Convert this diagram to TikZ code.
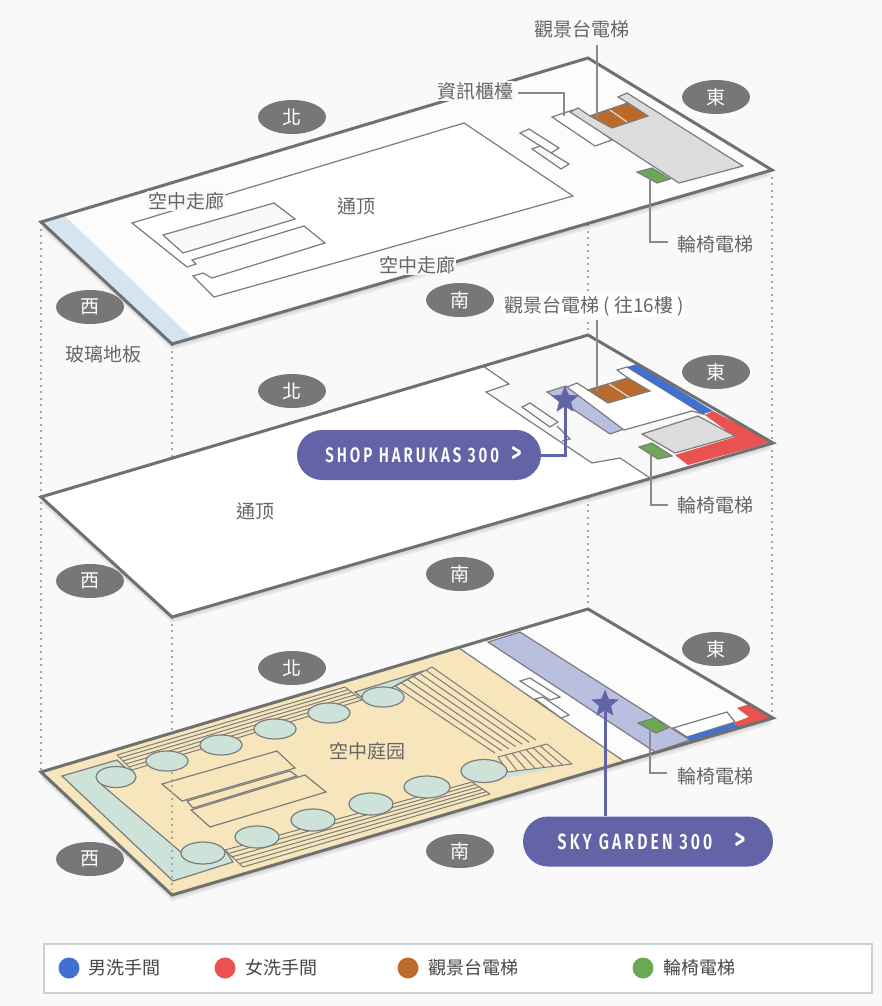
\documentclass[tikz,border=0pt]{standalone}
\usepackage{fontspec}
\setmainfont{Noto Sans CJK TC}
\newfontfamily\badgefont[FakeStretch=0.72,LetterSpace=14]{Fira Sans SemiBold}
\usetikzlibrary{shapes.geometric}
\definecolor{bgc}{HTML}{F9F9F9}
\definecolor{outl}{HTML}{707070}
\definecolor{thinC}{HTML}{7C7C7C}
\definecolor{leadC}{HTML}{8A8A8A}
\definecolor{txt}{HTML}{666666}
\definecolor{blueC}{HTML}{4270CE}
\definecolor{redC}{HTML}{E9524F}
\definecolor{brownC}{HTML}{BB6A2B}
\definecolor{greenC}{HTML}{6AAA55}
\definecolor{beigeC}{HTML}{F7E6BB}
\definecolor{tealC}{HTML}{CDE3D9}
\definecolor{lavC}{HTML}{B9BFDF}
\definecolor{grayC}{HTML}{DCDCDC}
\definecolor{glassC}{HTML}{D5E4EE}
\definecolor{purC}{HTML}{6264A7}
\definecolor{legB}{HTML}{C8D2D6}
\newcommand{\chev}{\scalebox{1.35}{>}}
\tikzset{
 floorline/.style={draw=outl,line width=3pt,line join=miter},
 part/.style={draw=thinC,line width=1.2pt,line join=miter},
 shadowp/.style={fill=black,opacity=.06},
 dotline/.style={draw=black!35,line width=1.5pt,dash pattern=on 2pt off 4.5pt},
 leader/.style={draw=leadC,line width=1.4pt},
 dirn/.style={ellipse,fill=outl!95,text=white,minimum width=68pt,minimum height=34pt,inner sep=0pt,font=\fontsize{19}{19}\selectfont},
 lbl/.style={text=txt,font=\fontsize{19}{19}\selectfont,inner sep=1pt},
 halo/.style={lbl,fill=bgc},
 garden/.style={draw=thinC,fill=tealC,line width=1.2pt},
 badge/.style={fill=purC,text=white,rounded corners=25pt,minimum height=50pt,inner sep=0pt,font=\badgefont\fontsize{22}{22}\selectfont},
 starM/.style={star,star points=5,star point ratio=2.3,fill=purC,inner sep=0pt,minimum size=29pt},
 purl/.style={draw=purC,line width=3pt},
 legdot/.style={circle,minimum size=21pt,inner sep=0pt},
 legt/.style={text=black!72,font=\fontsize{18}{18}\selectfont,inner sep=0pt},
}
\begin{document}
\begin{tikzpicture}[x=1pt,y=-1pt]
\useasboundingbox (0,0) rectangle (882,1006);
\fill[bgc] (0,0) rectangle (882,1006);
% dotted guides
\coordinate (dA1) at (41,222); \coordinate (dA2) at (41,772);
\coordinate (dB1) at (172,344); \coordinate (dB2) at (172,458);
\coordinate (dB3) at (172,617); \coordinate (dB4) at (172,735);
\coordinate (dB5) at (172,772); \coordinate (dB6) at (172,890);
\coordinate (dC1) at (588,224); \coordinate (dC2) at (588,335);
\coordinate (dC3) at (588,497); \coordinate (dC4) at (588,609);
\coordinate (dD1) at (772,170); \coordinate (dD2) at (772,718);
\draw[dotline] (dA1)--(dA2); \draw[dotline] (dB1)--(dB2); \draw[dotline] (dB3)--(dB4);
\draw[dotline] (dC1)--(dC2); \draw[dotline] (dC3)--(dC4); \draw[dotline] (dD1)--(dD2);

% ---------- TOP FLOOR
\foreach \s in {2,4,6}{\fill[shadowp,yshift=-\s pt] (41,222)--(172,344)--(772,170)--(588,58)--cycle;}
\fill[white!50!bgc] (41,222)--(172,344)--(772,170)--(588,58)--cycle;
\fill[glassC] (41,222)--(65,216)--(192,338)--(172,344)--cycle;
\draw[part,fill=white] (132,223)--(464,123)--(573,196)--(214,297)--(193,276)--(203,273)--(212,278)--(325,243)--(304,226)--(192,260)--(196,264)--(187,267)--cycle;
\draw[part,fill=bgc] (163,235)--(274,203)--(295,219)--(183,253)--cycle;
\draw[part,fill=white] (552,117)--(573,110)--(612,140)--(595,146)--cycle;
\draw[part,fill=grayC] (570,112)--(578,108)--(590,116)--(628,103)--(618,97)--(627,93)--(743,166)--(679,183)--cycle;
\draw[part,fill=brownC] (590,116)--(628,103)--(648,116)--(612,128)--cycle;
\draw[part,draw=grayC] (610,110)--(627,122);
\draw[part,fill=greenC] (637,172)--(652,168)--(670,179)--(657,183)--cycle;
\draw[part,fill=bgc] (520,133)--(529,129)--(559,148)--(551,153)--cycle;
\draw[part,fill=bgc] (532,149)--(540,146)--(569,164)--(561,169)--cycle;
\draw[floorline] (41,222)--(172,344)--(772,170)--(588,58)--cycle;

\node[dirn] (n1) at (292,117) {北};
\node[dirn] (e1) at (716,97) {東};
\node[dirn] (w1) at (90,307) {西};
\node[dirn] (s1) at (460,300) {南};
\node[halo] (t1) at (186,201) {空中走廊};
\node[lbl] (t2) at (356,206) {通顶};
\node[halo] (t3) at (417,265) {空中走廊};
\node[lbl] (t4) at (103,354) {玻璃地板};
\node[lbl] (t5) at (582,29) {觀景台電梯};
\node[halo] (t6) at (475,91) {資訊櫃檯};
\node[lbl] (t7) at (715,244) {輪椅電梯};
\coordinate (a1) at (597,45); \coordinate (a2) at (597,118);
\draw[leader] (a1)--(a2);
\coordinate (b1) at (518,93); \coordinate (b2) at (564,93); \coordinate (b3) at (564,116);
\draw[leader] (b1)--(b2)--(b3);
\coordinate (c1) at (650,174); \coordinate (c2) at (650,242); \coordinate (c3) at (668,242);
\draw[leader] (c1)--(c2)--(c3);

% ---------- MIDDLE FLOOR
\foreach \s in {2,4,6}{\fill[shadowp,yshift=-\s pt] (41,497)--(172,617)--(773,443)--(588,335)--cycle;}
\fill[white] (41,497)--(172,617)--(773,443)--(588,335)--cycle;
\draw[part,fill=bgc] (483,366)--(509,384)--(486,392)--(592,463)--(620,458)--(650,478)--(773,443)--(588,335)--cycle;
\draw[part,fill=lavC] (547,392)--(566,386)--(624,429)--(610,434)--cycle;
\draw[part,fill=white] (567,387)--(577,383)--(588,390)--(628,378)--(617,370)--(627,367)--(703,414)--(692,411)--(624,430)--cycle;
\draw[part,fill=brownC] (588,390)--(628,378)--(650,391)--(608,403)--cycle;
\draw[part,draw=grayC] (609,384)--(629,397);
\fill[blueC] (627,367)--(637,364)--(713,411)--(703,414)--cycle;
\fill[redC] (705,415)--(713,411)--(772,442)--(688,465)--(675,455)--(735,437)--cycle;
\draw[part,fill=grayC] (642,434)--(698,416)--(735,436)--(675,453)--cycle;
\draw[part,fill=greenC] (639,447)--(652,443)--(672,456)--(658,459)--cycle;
\draw[part,fill=bgc] (522,407)--(530,403)--(558,422)--(550,427)--cycle;
\draw[part] (557,426)--(570,439)--(562,441);
\draw[floorline] (41,497)--(172,617)--(773,443)--(588,335)--cycle;

\node[dirn] (n2) at (292,391) {北};
\node[dirn] (e2) at (716,372) {東};
\node[dirn] (w2) at (90,581) {西};
\node[dirn] (s2) at (460,574) {南};
\node[lbl] (t8) at (255,511) {通顶};
\node[lbl,fill=white,rounded corners=6pt,anchor=west] (t9) at (503,306) {觀景台電梯 ( 往16樓 )\hspace{16pt}};
\node[lbl] (t10) at (715,505) {輪椅電梯};
\coordinate (d1) at (597,320); \coordinate (d2) at (597,392);
\draw[leader] (d1)--(d2);
\coordinate (f1) at (651,452); \coordinate (f2) at (651,505); \coordinate (f3) at (668,505);
\draw[leader] (f1)--(f2)--(f3);

% ---------- BOTTOM FLOOR
\foreach \s in {2,4,6}{\fill[shadowp,yshift=-\s pt] (41,772)--(172,895)--(773,718)--(588,609)--cycle;}
\fill[white!50!bgc] (41,772)--(172,895)--(773,718)--(588,609)--cycle;
\fill[beigeC] (41,772)--(459,648)--(625,762)--(172,895)--cycle;
\draw[part] (459,648)--(625,762);
\draw[part,fill=lavC] (488,642)--(520,632)--(690,740)--(655,752)--cycle;
\draw[part,fill=white] (520,681)--(530,678)--(560,697)--(550,700)--cycle;
\draw[part,fill=white] (535,699)--(543,697)--(569,715)--(561,718)--cycle;
\draw[part,fill=greenC] (638,723)--(655,718)--(668,728)--(656,733)--cycle;
\draw[part,fill=white] (673,728)--(727,712)--(735,722)--(687,737)--cycle;
\fill[blueC] (687,737)--(733,723)--(742,728)--(691,742)--cycle;
\fill[redC] (737,708)--(750,704)--(772,718)--(742,728)--(733,723)--(749,717)--cycle;
% teal L and wedges
\draw[part,fill=tealC] (62,776)--(117,760)--(130,772)--(102,785)--(182,853)--(225,850)--(233,862)--(173,881)--cycle;
\draw[part,fill=tealC] (355,692)--(420,672)--(395,686)--(365,700)--cycle;
\fill[tealC] (483,783)--(555,768)--(508,772)--(500,775)--cycle;
% stripes
\foreach \t in {0,.2,.4,.6,.8,1}{
  \draw[part,line width=1pt] ({117+15*\t},{755+15*\t})--({345+17*\t},{687+13*\t});
  \draw[part,line width=1pt] ({225+18*\t},{850+17*\t})--({472+18*\t},{782+12*\t});
}
\draw[part,line width=1pt] (117,755)--(132,770);
\draw[part,line width=1pt] (345,687)--(362,700);
\draw[part,line width=1pt] (225,850)--(243,867);
\draw[part,line width=1pt] (472,782)--(490,794);
\foreach \t in {0,.167,.333,.5,.667,.833,1}{
  \draw[part,line width=1pt] ({395+37*\t},{686-19*\t})--({495+41*\t},{753-13*\t});
}
\draw[part,line width=1pt] (395,686)--(432,667);
\foreach \t in {0,.143,.286,.429,.571,.714,.857,1}{
  \draw[part,line width=1pt] ({498+49*\t},{757-13*\t})--({508+64*\t},{772-8*\t});
}
\draw[part,line width=1pt] (498,757)--(547,744);
\draw[part,line width=1pt] (508,772)--(572,764);
% pavilions
\draw[part,fill=beigeC] (187,801)--(290,771)--(297,776)--(193,808)--cycle;
\draw[part,fill=beigeC] (162,784)--(277,751)--(295,768)--(182,801)--cycle;
\draw[part,fill=beigeC] (191,810)--(305,775)--(326,792)--(210,827)--cycle;
% ovals
\foreach \x/\y/\a/\b in {116/777/20/10.5,167/761/21/10,221/745/21/10,275/729/21/10,329/713/21/10,383/697/21/10,203/853/22/11,257/837/22/11,313/820/22/11,371/804/22/11,427/787/23/11,484/771/23/11.5}{
  \draw[garden] (\x,\y) ellipse [x radius=\a,y radius=\b];
}
\draw[floorline] (41,772)--(172,895)--(773,718)--(588,609)--cycle;
\draw[dotline] (dB5)--(dB6);

\node[dirn] (n3) at (292,668) {北};
\node[dirn] (e3) at (716,649) {東};
\node[dirn] (w3) at (90,859) {西};
\node[dirn] (s3) at (460,851) {南};
\node[lbl] (t11) at (367,751) {空中庭园};
\node[lbl] (t12) at (715,776) {輪椅電梯};
\coordinate (g1) at (650,726); \coordinate (g2) at (650,773); \coordinate (g3) at (667,773);
\draw[leader] (g1)--(g2)--(g3);

% badges
\node[badge,minimum width=244pt] (b300) at (419,455) {\fontsize{21}{21}\selectfont\hspace*{9pt}SHOP HARUKAS 300\hspace{12pt}\chev};
\node[starM] (st1) at (565,400) {};
\draw[purl] (b300.east) -| (st1.center);
\node[badge,minimum width=250pt] (g300) at (648,841.5) {\hspace*{7pt}SKY GARDEN 300\hspace{22pt}\chev};
\node[starM] (st2) at (605,704) {};
\draw[purl] (g300.north -| st2) -- (st2.center);

% legend
\node[draw=legB,fill=white,line width=1.2pt,minimum width=828pt,minimum height=49pt,inner sep=0pt] (legend) at (458,968.5) {};
\node[legdot,fill=blueC] (k1) at (69,968) {};
\node[legt] (k1t) at (124,968) {男洗手間};
\node[legdot,fill=redC] (k2) at (225,968) {};
\node[legt] (k2t) at (281,968) {女洗手間};
\node[legdot,fill=brownC] (k3) at (408,968) {};
\node[legt] (k3t) at (473,968) {觀景台電梯};
\node[legdot,fill=greenC] (k4) at (643,968) {};
\node[legt] (k4t) at (699,968) {輪椅電梯};
\end{tikzpicture}
\end{document}
